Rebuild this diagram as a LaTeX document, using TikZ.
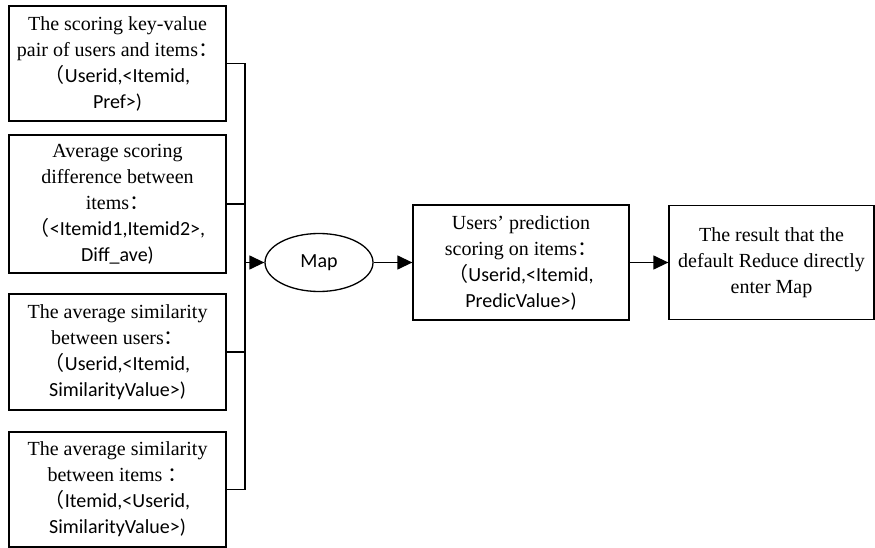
\documentclass[tikz,border=0pt]{standalone}
\usepackage{fontspec}
\setmainfont{Liberation Serif}
\setsansfont{Carlito}
\newfontfamily\cjk{Noto Sans CJK SC}
\usetikzlibrary{arrows.meta,shapes.geometric}
\newcommand{\fw}[1]{{\cjk #1}}
\newcommand{\code}[1]{{\sffamily #1}}

\begin{document}
\begin{tikzpicture}[x=1pt,y=-1pt, line width=1.3pt,
	font=\fontsize{20}{26}\selectfont,
	box/.style={draw,align=center,inner sep=0pt,minimum width=217},
	arr/.style={-{Triangle[length=15,width=14]}}]
	\useasboundingbox (0,0) rectangle (875,548);
	\node[box,minimum height=115] (pair) at (117.5,63.5) {The scoring key-value\\pair of users and items\fw{：}\\\code{\fw{（}Userid,<Itemid,}\\\code{Pref>)}};
	\node[box,minimum height=138] (diff) at (117.5,204) {Average scoring\\difference between\\items\fw{：}\\\code{\fw{（}<Itemid1,Itemid2>,}\\\code{Diff\_ave)}};
	\node[box,minimum height=116] (usim) at (117.5,352) {The average similarity\\between users\fw{：}\\\code{\fw{（}Userid,<Itemid,}\\\code{SimilarityValue>)}};
	\node[box,minimum height=115] (isim) at (117.5,489.5) {The average similarity\\between items \fw{：}\\\code{\fw{（}Itemid,<Userid,}\\\code{SimilarityValue>)}};
	\coordinate (bus) at (245,262.5);
	\node[draw,ellipse,minimum width=108,minimum height=58,inner sep=0pt] (map) at (319,262.5) {\code{Map}};
	\node[box,minimum width=216,minimum height=115] (pred) at (521,262.5) {Users’ prediction\\scoring on items\fw{：}\\\code{\fw{（}Userid,<Itemid,}\\\code{PredicValue>)}};
	\node[box,minimum width=205,minimum height=114] (res) at (771.5,262.5) {The result that the\\default Reduce directly\\enter Map};

	\draw (pair.east) -| (bus) |- (isim.east);
	\draw (diff.east) -- (diff.east -| bus);
	\draw (usim.east) -- (usim.east -| bus);
	\draw[arr] (bus) -- (map);
	\draw[arr] (map) -- (pred);
	\draw[arr] (pred) -- (res);
\end{tikzpicture}
\end{document}
